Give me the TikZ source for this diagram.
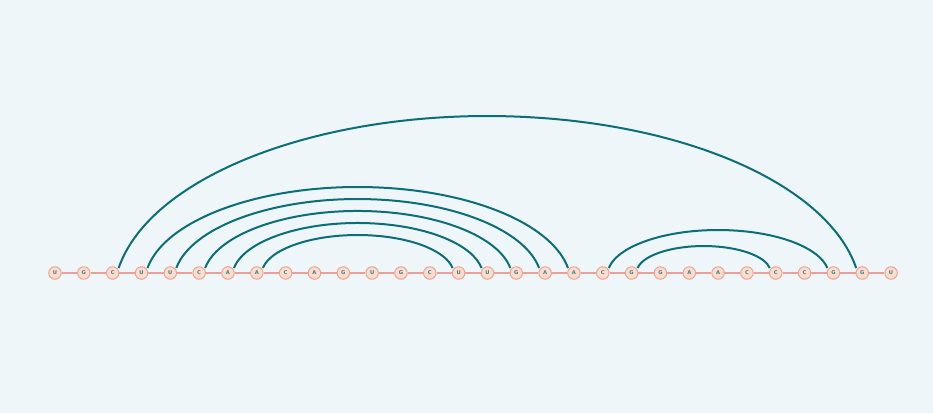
\documentclass[tikz,border=0pt]{standalone}
\usepackage{fontspec}
\setmainfont{DejaVu Sans}
\definecolor{bgc}{HTML}{EEF6F9}
\definecolor{arcc}{HTML}{0B6E79}
\definecolor{nfill}{HTML}{FDDDD0}
\definecolor{ndraw}{HTML}{EFA48D}
\definecolor{ntext}{HTML}{3A7F86}
\definecolor{blc}{HTML}{E9A09A}
\tikzset{
  base/.style={circle, draw=ndraw, fill=nfill, line width=1pt, minimum size=12.5pt, inner sep=0pt,
    font=\fontsize{5.2}{5.5}\selectfont\bfseries, text=ntext},
  bline/.style={draw=blc, line width=1.1pt},
  pair/.style={draw=arcc, line width=2pt}
}
\begin{document}
\begin{tikzpicture}[x=1pt,y=1pt]
\fill[bgc] (0,0) rectangle (933,413);
\useasboundingbox (0,0) rectangle (933,413);
\foreach \l [count=\i from 0] in {U,G,C,U,U,C,A,A,C,A,G,U,G,C,U,U,G,A,A,C,G,G,A,A,C,C,C,G,G,U}
  \node[base] (n\i) at (55+\i*28.83,140) {\l};
\foreach \i [evaluate=\i as \j using int(\i+1)] in {0,...,28}
  \draw[bline] (n\i) -- (n\j);
\draw[pair] ([xshift=6pt,yshift=5pt]n2.center) arc[start angle=170.5, end angle=9.5, x radius=373.9pt, y radius=182.0pt];
\draw[pair] ([xshift=6pt,yshift=5pt]n3.center) arc[start angle=170.5, end angle=9.5, x radius=213.2pt, y radius=97.0pt];
\draw[pair] ([xshift=6pt,yshift=5pt]n4.center) arc[start angle=170.5, end angle=9.5, x radius=183.9pt, y radius=82.6pt];
\draw[pair] ([xshift=6pt,yshift=5pt]n5.center) arc[start angle=170.5, end angle=9.5, x radius=154.7pt, y radius=68.3pt];
\draw[pair] ([xshift=6pt,yshift=5pt]n6.center) arc[start angle=170.5, end angle=9.5, x radius=125.5pt, y radius=53.9pt];
\draw[pair] ([xshift=6pt,yshift=5pt]n7.center) arc[start angle=170.5, end angle=9.5, x radius=96.2pt, y radius=39.5pt];
\draw[pair] ([xshift=6pt,yshift=5pt]n19.center) arc[start angle=170.5, end angle=9.5, x radius=110.8pt, y radius=45.5pt];
\draw[pair] ([xshift=6pt,yshift=5pt]n20.center) arc[start angle=170.5, end angle=9.5, x radius=67.0pt, y radius=26.3pt];
\end{tikzpicture}
\end{document}
